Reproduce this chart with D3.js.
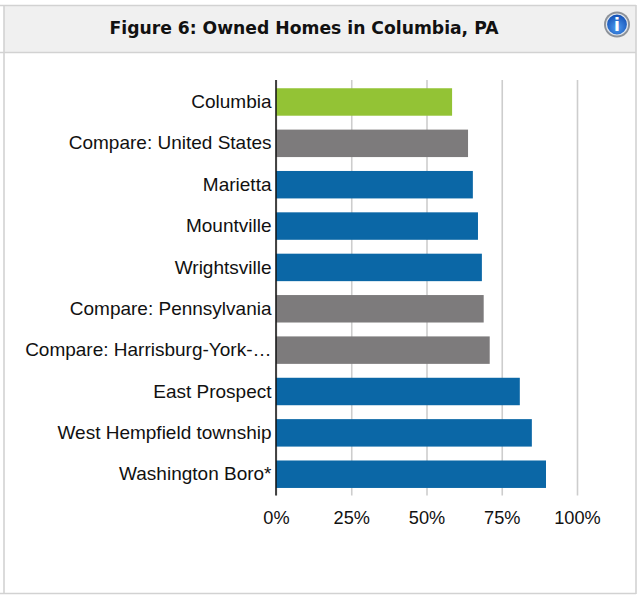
<!DOCTYPE html>
<html><head><meta charset="utf-8">
<script src="https://cdn.jsdelivr.net/npm/d3@7"></script>
<style>html,body{margin:0;padding:0;background:#fff}svg{display:block}</style>
</head><body><svg id="c" width="640" height="598"></svg>
<script>
const titleText = "Figure 6: Owned Homes in Columbia, PA";
const categories = ["Columbia","Compare: United States","Marietta","Mountville","Wrightsville","Compare: Pennsylvania","Compare: Harrisburg-York-…","East Prospect","West Hempfield township","Washington Boro*"];
const values = [58.5,63.8,65.4,67.1,68.4,69,71,81,85,89.7];
const groups = ["focus","compare","place","place","place","compare","compare","place","place","place"];
const tickValues = [0,25,50,75,100];

const svg = d3.select("#c");
const color = d3.scaleOrdinal().domain(["focus","compare","place"]).range(["#93c335","#7d7b7c","#0b67a6"]);
const x = d3.scaleLinear().domain([0,100]).range([276,577]);
const y = d3.scaleBand().domain(categories).range([81.3,494.9]).paddingInner(0.336).paddingOuter(0.168);

// panel
svg.append("rect").attr("x",4).attr("y",6).attr("width",632).attr("height",46).attr("fill","#f0f0f0");
const frame = [[0,5.5,636,5.5],[0,52.5,636,52.5],[0,593.5,636,593.5],[4,5,4,594],[636,5,636,594]];
svg.selectAll("line.frame").data(frame).join("line").attr("class","frame")
  .attr("x1",d=>d[0]).attr("y1",d=>d[1]).attr("x2",d=>d[2]).attr("y2",d=>d[3])
  .attr("stroke","#d2d2d2").attr("stroke-width",1.6);
svg.append("text").attr("x",304).attr("y",34).attr("text-anchor","middle")
  .attr("font-family","'DejaVu Sans',Verdana,sans-serif").attr("font-weight","bold").attr("font-size",17.2).attr("fill","#111").text(titleText);

// info icon
const defs = svg.append("defs");
const g = defs.append("radialGradient").attr("id","ib").attr("cx","50%").attr("cy","65%").attr("r","60%");
g.append("stop").attr("offset","0%").attr("stop-color","#4f9cf0");
g.append("stop").attr("offset","100%").attr("stop-color","#1553b8");
svg.append("circle").attr("cx",617).attr("cy",24.5).attr("r",13).attr("fill","#8d9299");
svg.append("circle").attr("cx",617).attr("cy",24.5).attr("r",10.5).attr("fill","url(#ib)").attr("stroke","#dfe6ee").attr("stroke-width",1.2);
svg.append("text").attr("x",617).attr("y",31).attr("text-anchor","middle").attr("font-family","'DejaVu Sans',sans-serif").attr("font-weight","bold").attr("font-size",17).attr("fill","#fff").text("i");

// grid + x axis
const gx = svg.append("g").attr("transform","translate(0,495.5)")
  .call(d3.axisBottom(x).tickValues(tickValues).tickFormat(d=>d+"%").tickSize(-415.5).tickPadding(16));
gx.select(".domain").remove();
gx.selectAll("line").attr("stroke","#cdcdcd").attr("stroke-width",1.6);
gx.selectAll("text").attr("font-family","'Liberation Sans',Arial,sans-serif").attr("font-size",18.2).attr("fill","#111");

// bars
svg.selectAll("rect.bar").data(categories).join("rect").attr("class","bar")
  .attr("x",x(0)).attr("y",d=>y(d)).attr("height",y.bandwidth())
  .attr("width",(d,i)=>x(values[i])-x(0)).attr("fill",(d,i)=>color(groups[i]));

// y axis
const gy = svg.append("g").attr("transform","translate(276,0)").call(d3.axisLeft(y).tickSize(0).tickPadding(4.5));
gy.select(".domain").remove();
gy.selectAll("text").attr("font-family","'Liberation Sans',Arial,sans-serif").attr("font-size",19).attr("fill","#111");
svg.append("line").attr("x1",x(0)).attr("x2",x(0)).attr("y1",80).attr("y2",495.5).attr("stroke","#111").attr("stroke-width",1.5);
</script></body></html>
